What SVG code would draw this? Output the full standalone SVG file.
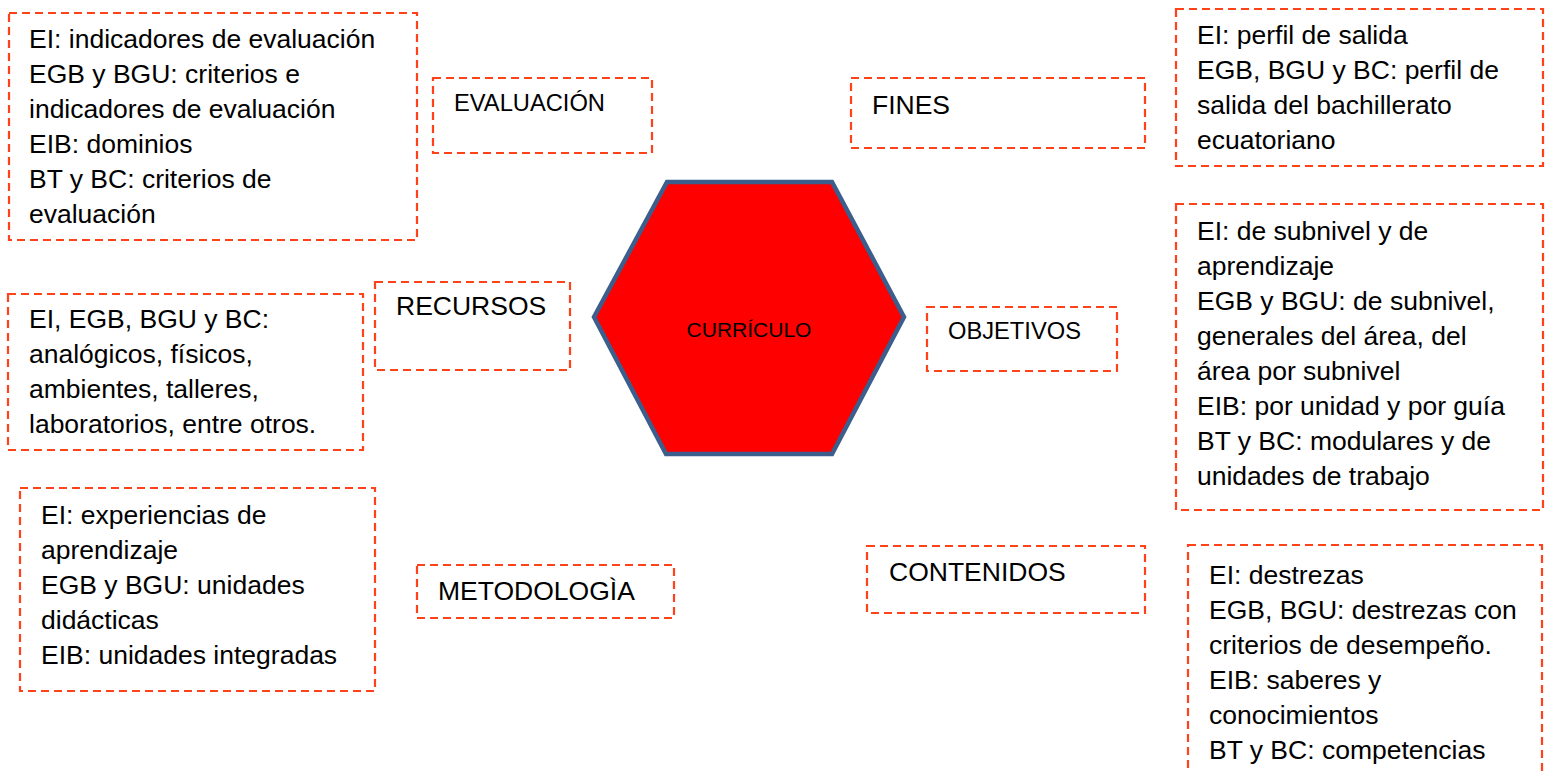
<svg xmlns="http://www.w3.org/2000/svg" width="1547" height="771" viewBox="0 0 1547 771">
<defs>
<style>
.box{fill:none;stroke:#ff4219;stroke-width:2.2;stroke-dasharray:8 5}
.t{font-family:"Liberation Sans",Arial,sans-serif;font-size:26.5px;fill:#000}
.s{font-family:"Liberation Sans",Arial,sans-serif;font-size:23.7px;fill:#000}
.c{font-family:"Liberation Sans",Arial,sans-serif;font-size:21px;fill:#000}
</style>
</defs>
<rect width="1547" height="771" fill="#fff"/>
<g id="connectors"></g>
<g id="curriculo">
<polygon points="667,182 832,182 904,317 832,454 666,454 594,317" fill="#ff0000" stroke="#3b5e8c" stroke-width="4.5" stroke-linejoin="miter"/>
<text class="c" x="749" y="337" text-anchor="middle">CURRÍCULO</text>
</g>
<g id="evaluacion-detalle">
<rect class="box" x="9" y="13" width="408" height="227"/>
<text class="t" x="29" y="48">EI: indicadores de evaluación</text>
<text class="t" x="29" y="83">EGB y BGU: criterios e</text>
<text class="t" x="29" y="118">indicadores de evaluación</text>
<text class="t" x="29" y="153">EIB: dominios</text>
<text class="t" x="29" y="188">BT y BC: criterios de</text>
<text class="t" x="29" y="223">evaluación</text>
</g>
<g id="evaluacion">
<rect class="box" x="433" y="78" width="219" height="75"/>
<text class="s" x="454" y="111">EVALUACIÓN</text>
</g>
<g id="fines">
<rect class="box" x="851" y="78" width="294" height="70"/>
<text class="t" x="872" y="114">FINES</text>
</g>
<g id="fines-detalle">
<rect class="box" x="1176" y="9" width="367" height="157"/>
<text class="t" x="1197" y="44">EI: perfil de salida</text>
<text class="t" x="1197" y="79">EGB, BGU y BC: perfil de</text>
<text class="t" x="1197" y="114">salida del bachillerato</text>
<text class="t" x="1197" y="149">ecuatoriano</text>
</g>
<g id="recursos">
<rect class="box" x="375" y="282" width="195" height="88"/>
<text class="t" x="396" y="315">RECURSOS</text>
</g>
<g id="recursos-detalle">
<rect class="box" x="8" y="294" width="355" height="156"/>
<text class="t" x="29" y="328">EI, EGB, BGU y BC:</text>
<text class="t" x="29" y="363">analógicos, físicos,</text>
<text class="t" x="29" y="398">ambientes, talleres,</text>
<text class="t" x="29" y="433">laboratorios, entre otros.</text>
</g>
<g id="objetivos">
<rect class="box" x="927" y="307" width="190" height="64"/>
<text class="s" x="948" y="339">OBJETIVOS</text>
</g>
<g id="objetivos-detalle">
<rect class="box" x="1176" y="204" width="367" height="306"/>
<text class="t" x="1197" y="240">EI: de subnivel y de</text>
<text class="t" x="1197" y="275">aprendizaje</text>
<text class="t" x="1197" y="310">EGB y BGU: de subnivel,</text>
<text class="t" x="1197" y="345">generales del área, del</text>
<text class="t" x="1197" y="380">área por subnivel</text>
<text class="t" x="1197" y="415">EIB: por unidad y por guía</text>
<text class="t" x="1197" y="450">BT y BC: modulares y de</text>
<text class="t" x="1197" y="485">unidades de trabajo</text>
</g>
<g id="metodologia-detalle">
<rect class="box" x="20" y="488" width="355" height="203"/>
<text class="t" x="41" y="524">EI: experiencias de</text>
<text class="t" x="41" y="559">aprendizaje</text>
<text class="t" x="41" y="594">EGB y BGU: unidades</text>
<text class="t" x="41" y="629">didácticas</text>
<text class="t" x="41" y="664">EIB: unidades integradas</text>
</g>
<g id="metodologia">
<rect class="box" x="417" y="565" width="257" height="53"/>
<text class="t" x="438" y="600">METODOLOGÌA</text>
</g>
<g id="contenidos">
<rect class="box" x="867" y="546" width="278" height="67"/>
<text class="t" x="889" y="581">CONTENIDOS</text>
</g>
<g id="contenidos-detalle">
<rect class="box" x="1188" y="545" width="354" height="245"/>
<text class="t" x="1209" y="584">EI: destrezas</text>
<text class="t" x="1209" y="619">EGB, BGU: destrezas con</text>
<text class="t" x="1209" y="654">criterios de desempeño.</text>
<text class="t" x="1209" y="689">EIB: saberes y</text>
<text class="t" x="1209" y="724">conocimientos</text>
<text class="t" x="1209" y="759">BT y BC: competencias</text>
</g>
</svg>
